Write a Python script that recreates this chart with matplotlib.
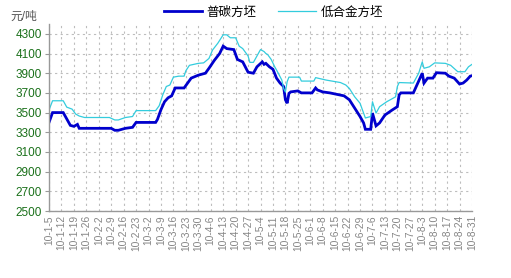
import matplotlib
matplotlib.use("Agg")
import matplotlib.pyplot as plt
import pandas as pd
import numpy as np

plt.rcParams['font.family'] = ['Liberation Sans', 'Noto Sans CJK SC', 'DejaVu Sans']

YEAR = 2010

# 普碳方坯 (dark blue)
carbon_dates = ['01-05','01-07','01-13','01-17','01-19','01-21','01-22','02-09','02-11','02-13',
                '02-17','02-21','02-23','03-06','03-07','03-09','03-11','03-13','03-15','03-17',
                '03-22','03-24','03-26','03-30','04-03','04-05','04-08','04-11','04-13','04-15',
                '04-19','04-21','04-24','04-27','04-30','05-02','05-05','05-06','05-07','05-09',
                '05-11','05-13','05-15','05-17','05-18','05-19','05-20','05-21','05-25','05-27',
                '06-02','06-04','06-05','06-08','06-12','06-16','06-20','06-23','06-26','06-29',
                '07-01','07-02','07-05','07-06','07-08','07-10','07-13','07-17','07-20','07-21',
                '07-22','07-29','07-31','08-03','08-04','08-06','08-09','08-11','08-16','08-18',
                '08-21','08-24','08-26','08-28','08-30','08-31']
carbon_values = [3400,3500,3500,3370,3360,3380,3340,3340,3320,3320,
                 3340,3350,3400,3400,3430,3530,3610,3650,3670,3750,
                 3750,3800,3850,3880,3900,3950,4030,4100,4175,4150,
                 4140,4040,4015,3910,3900,3965,4015,3990,4000,3965,
                 3940,3850,3800,3765,3630,3595,3695,3710,3720,3700,
                 3700,3750,3730,3710,3700,3685,3670,3630,3545,3460,
                 3395,3330,3330,3495,3365,3395,3475,3525,3560,3680,
                 3700,3700,3780,3900,3800,3850,3850,3905,3900,3870,
                 3850,3790,3800,3830,3870,3875]

# 低合金方坯 (light blue)
alloy_dates = ['01-05','01-07','01-13','01-15','01-18','01-20','01-22','01-25','02-08','02-11',
               '02-13','02-17','02-21','02-23','03-06','03-08','03-10','03-12','03-14','03-16',
               '03-19','03-22','03-23','03-25','03-30','04-02','04-05','04-07','04-10','04-13',
               '04-15','04-17','04-20','04-22','04-24','04-27','04-28','04-30','05-02','05-04',
               '05-06','05-07','05-08','05-10','05-12','05-14','05-16','05-17','05-18','05-19',
               '05-20','05-26','05-27','06-03','06-04','06-10','06-18','06-21','06-23','06-26',
               '06-29','07-01','07-02','07-05','07-06','07-08','07-10','07-14','07-19','07-20',
               '07-21','07-29','08-01','08-03','08-04','08-07','08-10','08-16','08-19','08-23',
               '08-27','08-29','08-31']
alloy_values = [3525,3620,3620,3555,3535,3485,3465,3450,3450,3425,
                3425,3450,3460,3520,3520,3570,3680,3765,3780,3860,
                3870,3870,3925,3980,4000,4005,4050,4135,4205,4290,
                4290,4260,4260,4175,4150,4075,4010,4010,4075,4140,
                4120,4100,4090,4040,3965,3900,3830,3745,3710,3815,
                3860,3860,3820,3820,3855,3830,3805,3780,3745,3660,
                3595,3495,3445,3460,3610,3495,3560,3610,3660,3765,
                3805,3800,3900,4015,3950,3965,4005,4000,3980,3915,
                3915,3965,3990]

series_names = ['普碳方坯', '低合金方坯']
tick_start = '01-05'
tick_end = '08-31'
y_ticks = [2500, 2700, 2900, 3100, 3300, 3500, 3700, 3900, 4100, 4300]
y_unit = '元/吨'


def to_dt(lst):
    return pd.to_datetime([f'{YEAR}-{d}' for d in lst])


fig = plt.figure(figsize=(5.11, 2.78), dpi=100)
ax = fig.add_axes([0.0959, 0.241, 0.9237 - 0.0959, 0.9137 - 0.241])

l1, = ax.plot(to_dt(carbon_dates), carbon_values, color='#0000cc', lw=2.0,
              solid_joinstyle='miter', label=series_names[0])
l2, = ax.plot(to_dt(alloy_dates), alloy_values, color='#33ccdd', lw=0.9,
              label=series_names[1])

ticks = pd.date_range(f'{YEAR}-{tick_start}', f'{YEAR}-{tick_end}', freq='7D')
ax.set_xticks(ticks)
ax.set_xticklabels([f'{t.year % 100}-{t.month}-{t.day}' for t in ticks],
                   rotation=90, fontsize=7.4, color='#858585')
ax.set_xlim(ticks[0], ticks[-1])
ax.set_ylim(2500, 4400)
ax.set_yticks(y_ticks)
ax.set_yticklabels([str(v) for v in y_ticks], fontsize=8.5, color='#1a701a')

ax.grid(True, which='major', color='#bdbdbd', linestyle=(0, (2, 3)), lw=0.8)
for s in ['top', 'right']:
    ax.spines[s].set_visible(False)
for s in ['left', 'bottom']:
    ax.spines[s].set_color('#999999')
    ax.spines[s].set_linewidth(1.0)
ax.tick_params(axis='y', length=3, color='#999999', pad=2)
ax.tick_params(axis='x', length=0, pad=3)

fig.text(0.02, 0.94, y_unit, fontsize=8.5, color='#555555', ha='left', va='center')

fig.legend(handles=[l1, l2], loc='center', bbox_to_anchor=(0.535, 0.955), ncol=2,
           frameon=False, fontsize=9, handlelength=3.0, columnspacing=1.8,
           handletextpad=0.35)

fig.savefig('out.png', dpi=100)
